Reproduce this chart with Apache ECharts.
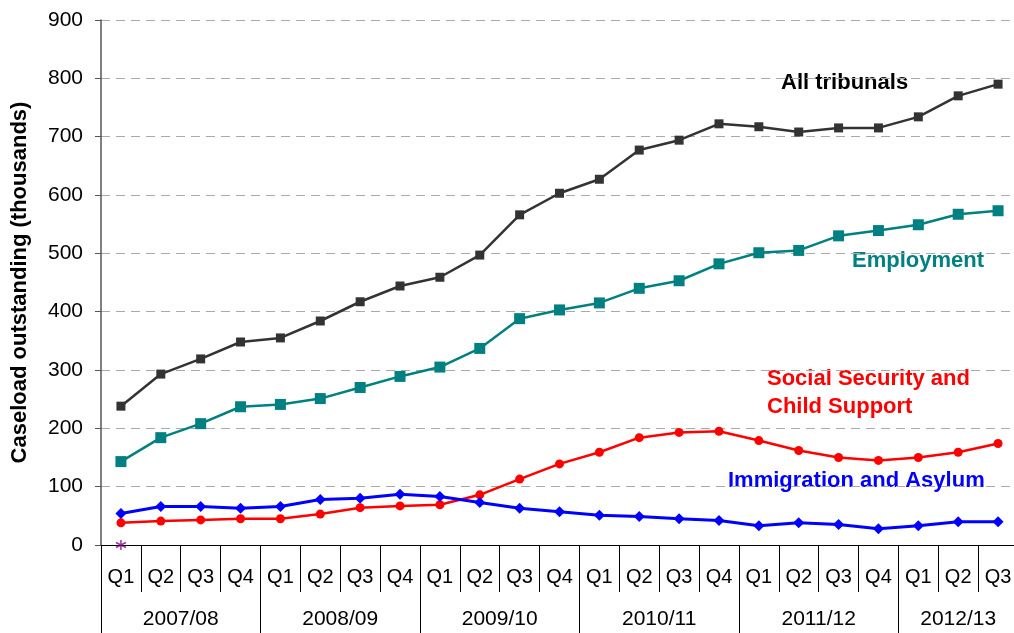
<!DOCTYPE html>
<html><head><meta charset="utf-8">
<script src="https://cdn.jsdelivr.net/npm/echarts@6/dist/echarts.min.js"></script>
<style>html,body{margin:0;padding:0;background:#fff}#c{width:1014px;height:633px}</style>
</head><body><div id="c"></div>
<script>
var quarters = ['Q1','Q2','Q3','Q4','Q1','Q2','Q3','Q4','Q1','Q2','Q3','Q4','Q1','Q2','Q3','Q4','Q1','Q2','Q3','Q4','Q1','Q2','Q3'];
var years = ['2007/08','2008/09','2009/10','2010/11','2011/12','2012/13'];
var yearBoundaries = [0,4,8,12,16,20,23];
var yearCentres = [2,6,10,14,18,21.5];
var yTicks = [0,100,200,300,400,500,600,700,800,900];

var allTribunals = [238,293,319,348,355,384,417,444,459,497,566,603,627,677,694,722,717,708,715,715,734,770,790];
var employment   = [143,184,208,237,241,251,270,289,305,337,388,403,415,440,453,482,501,505,530,539,549,567,573];
var socialSecurity = [38,41,43,45,45,53,64,67,69,86,113,139,159,184,193,195,179,162,150,145,150,159,174];
var immigration  = [54,66,66,63,66,78,80,87,83,73,63,57,51,49,45,42,33,38,35,28,33,40,40];
var otherMarker  = [0];

var font = 'Liberation Sans, Arial, sans-serif';
var chart = echarts.init(document.getElementById('c'));
chart.setOption({
  animation: false,
  grid: { left: 101, top: 20, width: 917, bottom: 88, outerBoundsMode: 'none', containLabel: false },
  xAxis: [{
    type: 'category', data: quarters, boundaryGap: true,
    axisLine: { show: true, lineStyle: { color: '#000', width: 1 } },
    axisTick: { show: true, interval: 0, length: 47, lineStyle: { color: '#000' } },
    axisLabel: { interval: 0, margin: 22, fontSize: 20, color: '#000', fontFamily: font },
    splitLine: { show: false }
  }, {
    type: 'value', min: 0, max: 23, position: 'bottom',
    axisLine: { show: false },
    axisTick: { show: true, customValues: yearBoundaries, length: 90, lineStyle: { color: '#000' } },
    axisLabel: { customValues: yearCentres, margin: 64, fontSize: 21, color: '#000', fontFamily: font,
      formatter: function(v){ var i = yearCentres.indexOf(v); return i >= 0 ? years[i] : ''; } },
    splitLine: { show: false }
  }],
  yAxis: {
    type: 'value', min: 0, max: 900, interval: 100,
    name: 'Caseload outstanding (thousands)', nameLocation: 'middle', nameRotate: 90, nameGap: 70,
    nameTextStyle: { fontSize: 22, fontWeight: 'bold', color: '#000', fontFamily: font },
    axisLine: { show: true, lineStyle: { color: '#555', width: 1.5 } },
    axisTick: { show: true, length: 6, lineStyle: { color: '#555' } },
    axisLabel: { margin: 18, fontSize: 21, color: '#000', fontFamily: font,
      formatter: function(v){ return yTicks.indexOf(v) >= 0 ? String(v) : ''; } },
    splitLine: { show: true, lineStyle: { color: '#aaa', type: [9, 6], width: 1.2 } }
  },
  series: [{
    name: 'All tribunals', type: 'line', data: allTribunals, xAxisIndex: 0,
    symbol: 'rect', symbolSize: 9, lineStyle: { color: '#333', width: 2.5 },
    itemStyle: { color: '#333' }
  }, {
    name: 'Employment', type: 'line', data: employment, xAxisIndex: 0,
    symbol: 'rect', symbolSize: 11, lineStyle: { color: '#008080', width: 2.5 },
    itemStyle: { color: '#008080' }
  }, {
    name: 'Social Security and Child Support', type: 'line', data: socialSecurity, xAxisIndex: 0,
    symbol: 'circle', symbolSize: 9, lineStyle: { color: '#ff0000', width: 2.5 },
    itemStyle: { color: '#ff0000' }
  }, {
    name: 'Immigration and Asylum', type: 'line', data: immigration, xAxisIndex: 0,
    symbol: 'diamond', symbolSize: 11, lineStyle: { color: '#0000ff', width: 3 },
    itemStyle: { color: '#0000ff' }
  }, {
    name: 'Other', type: 'scatter', data: otherMarker, xAxisIndex: 0,
    symbol: 'path://M5,0L5,10M0.7,2.5L9.3,7.5M9.3,2.5L0.7,7.5', symbolSize: 10,
    itemStyle: { color: 'none', borderColor: '#800080', borderWidth: 1.5 }, z: 5
  }],
  graphic: [
    { type: 'text', left: 781, top: 72, style: { text: 'All tribunals', fill: '#000', font: 'bold 22px ' + font } },
    { type: 'text', left: 852, top: 250, style: { text: 'Employment', fill: '#008080', font: 'bold 22px ' + font } },
    { type: 'text', left: 767, top: 365, style: { text: 'Social Security and\nChild Support', fill: '#ff0000', font: 'bold 22px ' + font, lineHeight: 28 } },
    { type: 'text', left: 728, top: 470, style: { text: 'Immigration and Asylum', fill: '#0000ff', font: 'bold 22px ' + font } }
  ]
});
</script></body></html>
